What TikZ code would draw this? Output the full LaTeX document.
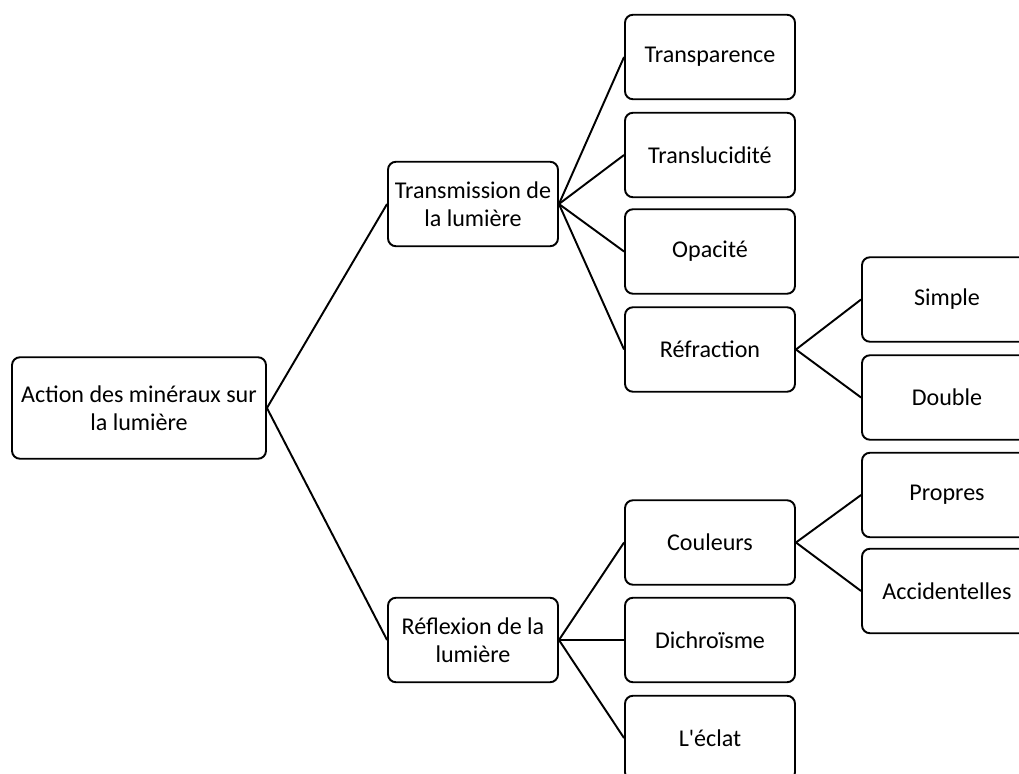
\documentclass[tikz,border=0pt]{standalone}
\usepackage{fontspec}
\setmainfont{Carlito}[Ligatures=TeXOff]
\usetikzlibrary{positioning}

\begin{document}
\begin{tikzpicture}[
    x=0.02cm, y=-0.02cm,
    item/.style={draw, line width=1.1pt, rounded corners=4.5pt, minimum width=3.4cm, minimum height=1.69cm, align=center, inner sep=2pt, font=\fontsize{13.7}{16}\selectfont},
    root/.style={item, minimum width=5.08cm, minimum height=2.03cm},
    link/.style={line width=1.1pt}
]
\useasboundingbox (0,0) rectangle (1019,774);

% Root
\node[root] (act) at (139, 408) {Action des minéraux sur\\la lumière};

% Second level
\node[item] (trans) at (473, 204) {Transmission de\\la lumière};
\node[item] (refl) at (473, 640) {Réflexion de la\\lumière};

% Transmission branch
\node[item] (tpar) at (710, 57) {Transparence};
\node[item] (tluc) at (710, 155) {Translucidité};
\node[item] (opac) at (710, 251.5) {Opacité};
\node[item] (refr) at (710, 349.5) {Réfraction};

% Reflexion branch
\node[item] (coul) at (710, 542.5) {Couleurs};
\node[item] (dich) at (710, 640) {Dichroïsme};
\node[item] (ecl) at (710, 738) {L'éclat};

% Leaves
\node[item] (simp) at (947, 299.5) {Simple};
\node[item] (doub) at (947, 397.5) {Double};
\node[item] (prop) at (947, 495) {Propres};
\node[item] (acci) at (947, 591) {Accidentelles};

% Connections
\draw[link] (act.east) -- (trans.west);
\draw[link] (act.east) -- (refl.west);

\draw[link] (trans.east) -- (tpar.west);
\draw[link] (trans.east) -- (tluc.west);
\draw[link] (trans.east) -- (opac.west);
\draw[link] (trans.east) -- (refr.west);

\draw[link] (refl.east) -- (coul.west);
\draw[link] (refl.east) -- (dich.west);
\draw[link] (refl.east) -- (ecl.west);

\draw[link] (refr.east) -- (simp.west);
\draw[link] (refr.east) -- (doub.west);

\draw[link] (coul.east) -- (prop.west);
\draw[link] (coul.east) -- (acci.west);

\end{tikzpicture}
\end{document}
